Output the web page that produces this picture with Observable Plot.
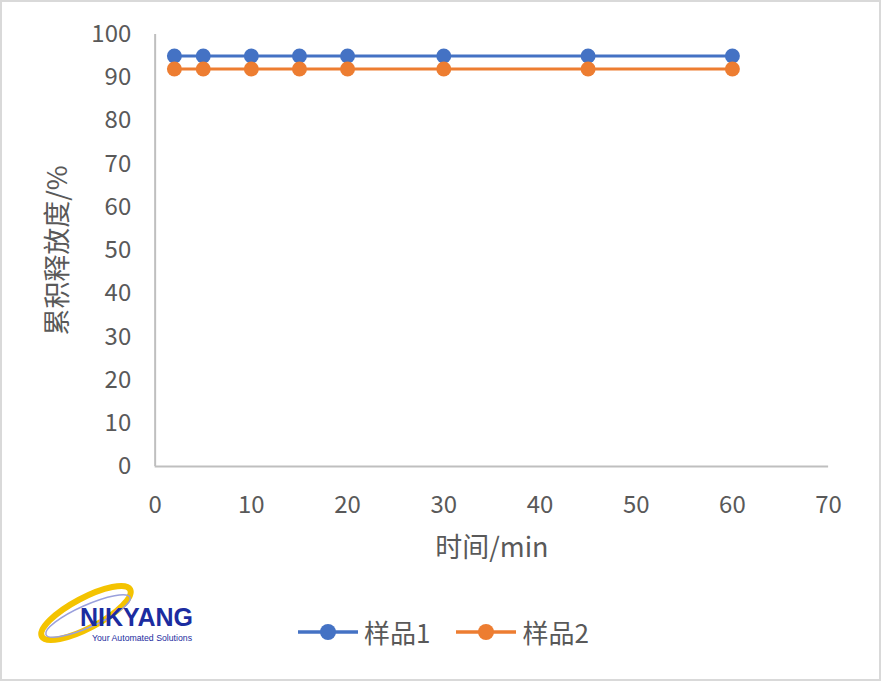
<!DOCTYPE html>
<html>
<head>
<meta charset="utf-8">
<script src="https://cdn.jsdelivr.net/npm/d3@7"></script>
<script src="https://cdn.jsdelivr.net/npm/@observablehq/plot@0.6"></script>
<style>
  html, body { margin: 0; padding: 0; background: #fff; }
  #wrap { position: relative; width: 881px; height: 681px; box-sizing: border-box; border: 2px solid #d9d9d9; overflow: hidden; font-family: "Noto Sans CJK SC", "Noto Sans", sans-serif; }
  #chart { position: absolute; left: -2px; top: -2px; }
  #legend { position: absolute; top: 612px; left: 294px; display: flex; align-items: center; font-size: 26px; line-height: 36px; color: #595959; }
  .item { display: flex; align-items: center; margin-right: 24px; }
  #logo { position: absolute; left: 28px; top: 578px; }
</style>
</head>
<body>
<div id="wrap">
  <div id="chart"></div>
  <div id="legend"></div>
  <div id="logo">
    <svg width="172" height="72" viewBox="0 0 172 72">
      <ellipse cx="56" cy="33" rx="50" ry="15" transform="rotate(-28 56 33)" fill="none" stroke="#f4c300" stroke-width="6"/>
      <ellipse cx="58" cy="36" rx="46" ry="11" transform="rotate(-24 58 36)" fill="none" stroke="#9aa0dc" stroke-width="1.5"/>
      <text x="50" y="46" font-family="Liberation Sans Narrow, Liberation Sans, sans-serif" font-weight="bold" font-size="25" fill="#1b2ca0">NIKYANG</text>
      <text x="62" y="61" font-family="Liberation Sans Narrow, Liberation Sans, sans-serif" font-size="9" fill="#1b2ca0" textLength="100" lengthAdjust="spacingAndGlyphs">Your Automated Solutions</text>
    </svg>
  </div>
</div>
<script>
const times = [2, 5, 10, 15, 20, 30, 45, 60];
const sample1 = [95, 95, 95, 95, 95, 95, 95, 95];
const sample2 = [92, 92, 92, 92, 92, 92, 92, 92];
const seriesNames = ["样品1", "样品2"];
const seriesColors = ["#4472C4", "#ED7D31"];
const xTicks = [0, 10, 20, 30, 40, 50, 60, 70];
const yTicks = [0, 10, 20, 30, 40, 50, 60, 70, 80, 90, 100];
const xTitle = "时间/min";
const yTitle = "累积释放度/%";

const data = [];
[sample1, sample2].forEach((vals, i) => {
  vals.forEach((v, j) => data.push({ series: seriesNames[i], t: times[j], v }));
});

const grey = "#595959";
const chart = Plot.plot({
  width: 881,
  height: 681,
  marginLeft: 155,
  marginRight: 51,
  marginTop: 34,
  marginBottom: 214,
  style: { fontFamily: "'Noto Sans CJK SC', 'Noto Sans', sans-serif", color: grey, background: "transparent" },
  x: { domain: [0, 70] },
  y: { domain: [0, 100] },
  color: { domain: seriesNames, range: seriesColors },
  marks: [
    Plot.ruleX([0], { stroke: "#bfbfbf", strokeWidth: 2 }),
    Plot.ruleY([0], { stroke: "#bfbfbf", strokeWidth: 2 }),
    Plot.axisY({ ticks: yTicks, tickSize: 0, tickPadding: 24, fontSize: 24, fill: grey, label: null }),
    Plot.axisX({ ticks: xTicks, tickSize: 0, tickPadding: 30, fontSize: 24, fill: grey, label: null }),
    Plot.text([yTitle], { frameAnchor: "left", textAnchor: "middle", lineAnchor: "middle", dx: -97, rotate: -90, fontSize: 27, fill: grey }),
    Plot.text([xTitle], { frameAnchor: "bottom", textAnchor: "middle", lineAnchor: "middle", dy: 82, fontSize: 27, fill: grey }),
    Plot.line(data, { x: "t", y: "v", z: "series", stroke: "series", strokeWidth: 3 }),
    Plot.dot(data, { x: "t", y: "v", fill: "series", r: 7.5 })
  ]
});
document.getElementById("chart").appendChild(chart);

const legend = document.getElementById("legend");
seriesNames.forEach((name, i) => {
  const item = document.createElement("div");
  item.className = "item";
  item.innerHTML = `<svg width="64" height="24"><line x1="2" y1="12" x2="62" y2="12" stroke="${seriesColors[i]}" stroke-width="3.5"/><circle cx="32" cy="12" r="8" fill="${seriesColors[i]}"/></svg><span style="margin-left:4px">${name}</span>`;
  legend.appendChild(item);
});
</script>
</body>
</html>
